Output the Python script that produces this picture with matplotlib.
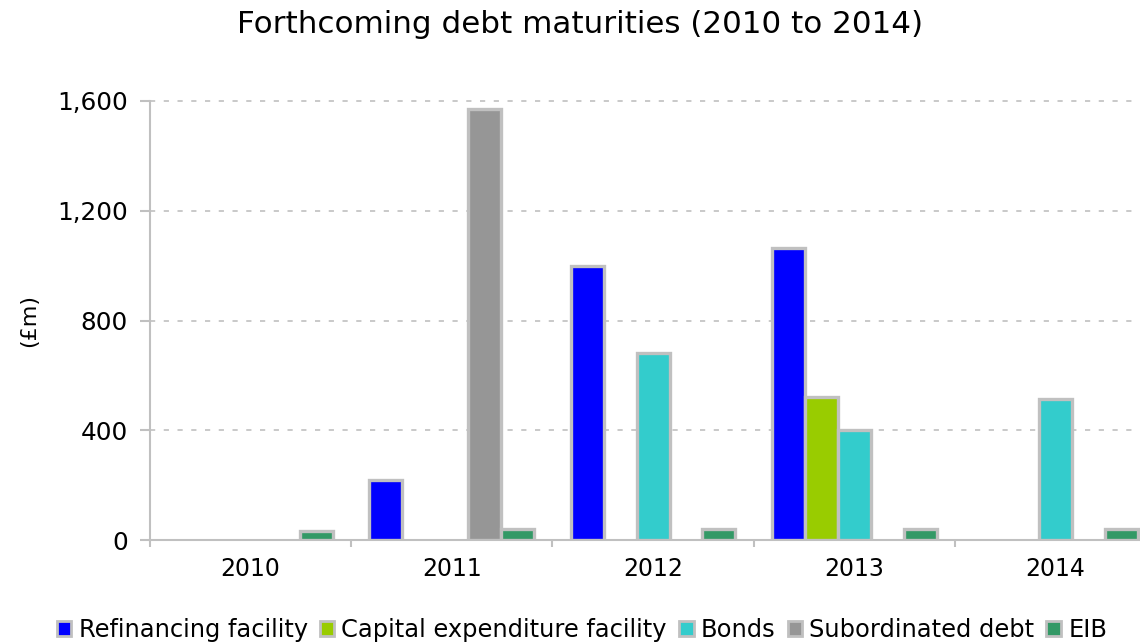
import numpy as np
import matplotlib.pyplot as plt
from matplotlib.patches import Patch

years = ["2010", "2011", "2012", "2013", "2014"]
series = ["Refinancing facility", "Capital expenditure facility", "Bonds",
          "Subordinated debt", "EIB"]
refinancing = [0, 220, 1000, 1065, 0]
capex = [0, 0, 0, 520, 0]
bonds = [0, 0, 680, 400, 515]
subordinated = [0, 1570, 0, 0, 0]
eib = [35, 40, 40, 40, 40]
colors = ["#0000FF", "#99CC00", "#33CCCC", "#969696", "#339966"]
yticks = [0, 400, 800, 1200, 1600]

edge = "#C0C0C0"
values = [refinancing, capex, bonds, subordinated, eib]

fig = plt.figure(figsize=(11.4, 6.43), dpi=100)
ax = fig.add_axes([0.13158, 0.15972, 0.88246, 0.68367])

x = np.arange(len(years))
w = 0.164
for i, (vals, col) in enumerate(zip(values, colors)):
    v = np.array(vals, dtype=float)
    mask = v > 0
    ax.bar(x[mask] + (i - 2) * w, v[mask], width=w, color=col,
           edgecolor=edge, linewidth=2.4, zorder=3)

ax.set_xlim(-0.5, 4.5)
ax.set_ylim(0, 1600)

# category boundaries get the tick marks, centres get the labels
ax.set_xticks(np.arange(-0.5, 5, 1.0))
ax.set_xticklabels([])
ax.set_xticks(x, minor=True)
ax.set_xticklabels(years, minor=True, fontsize=17)
ax.tick_params(axis="x", which="major", length=5, width=1.5, color=edge)
ax.tick_params(axis="x", which="minor", length=0, pad=12)

ax.set_yticks(yticks)
ax.set_yticklabels([f"{t:,}" for t in yticks], fontsize=17.8)
ax.tick_params(axis="y", length=7, width=1.5, color=edge, pad=9)

for t in yticks[1:]:
    ax.axhline(t, color="#BBBBBB", linewidth=1.1,
               linestyle=(0, (3.4, 5.6)), zorder=1, clip_on=False)

for s in ["top", "right"]:
    ax.spines[s].set_visible(False)
for s in ["left", "bottom"]:
    ax.spines[s].set_color(edge)
    ax.spines[s].set_linewidth(1.5)

fig.text(580 / 1140, 1 - 33 / 643, "Forthcoming debt maturities (2010 to 2014)",
         ha="center", va="baseline", fontsize=22.3)
fig.text(29 / 1140, 1 - 320 / 643, "(£m)", rotation=90,
         ha="center", va="center", fontsize=16)

handles = [Patch(facecolor=c, edgecolor=edge, linewidth=2) for c in colors]
fig.legend(handles, series, loc="center", ncol=5, frameon=False,
           bbox_to_anchor=(582 / 1140, 1 - 630 / 643), fontsize=17.4,
           handlelength=0.6, handleheight=0.6, handletextpad=0.3,
           columnspacing=0.5, borderpad=0)

fig.savefig("out.png", dpi=100)
